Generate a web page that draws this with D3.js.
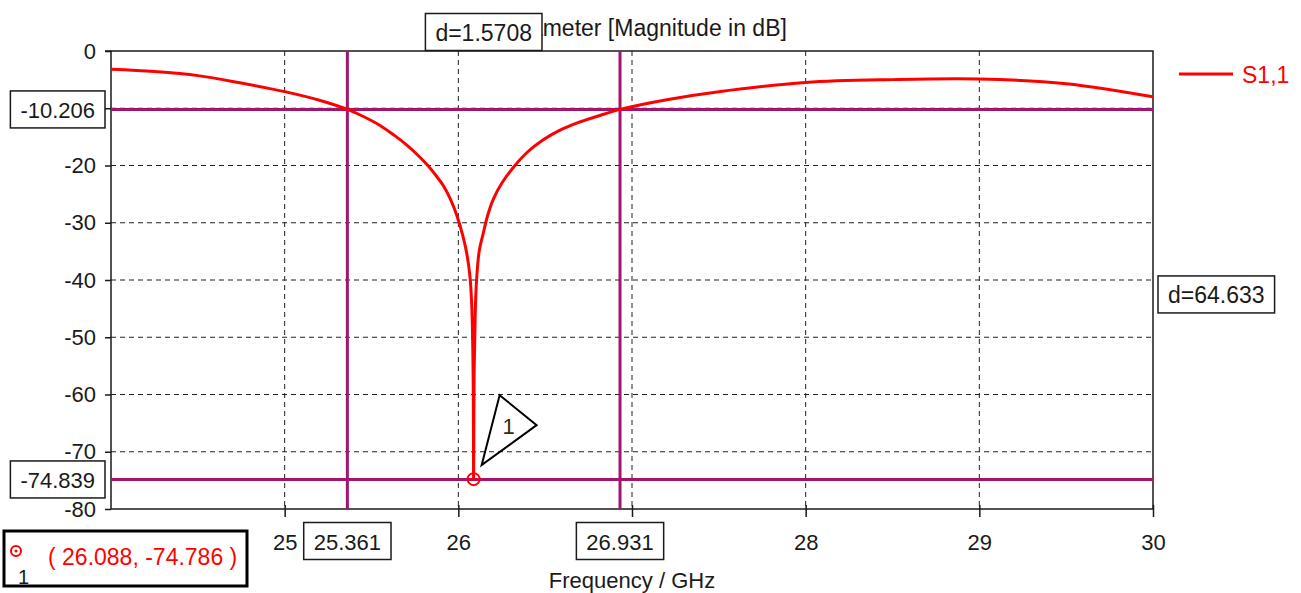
<!DOCTYPE html>
<html>
<head>
<meta charset="utf-8">
<script src="https://cdn.jsdelivr.net/npm/d3@7"></script>
<style>
  body { margin: 0; background: #fff; }
  svg { display: block; font-family: "Liberation Sans", Arial, sans-serif; }
</style>
</head>
<body>
<script>
// S-parameter data (GHz, dB)
const freq = [24, 24.25, 24.5, 24.75, 25, 25.2, 25.361, 25.45, 25.549, 25.63, 25.702, 25.77, 25.827, 25.87,
  25.913, 25.955, 25.99, 26.028, 26.05, 26.067,
  26.078, 26.085, 26.088, 26.091, 26.098, 26.105, 26.12, 26.143, 26.17, 26.201, 26.25, 26.326, 26.4, 26.489,
  26.58, 26.681, 26.8, 26.931, 27.2, 27.5, 28, 28.5, 29, 29.5, 30];
const s11 = [-3.2, -3.6, -4.3, -5.6, -7.1, -8.6, -10.2, -11.4, -13.0, -14.7, -16.4, -18.3, -20.1, -21.7,
  -23.5, -25.9, -28.6, -32.5, -35.6, -39.4,
  -45, -56, -74.8, -56, -45, -40, -35.0, -31.9, -28.6, -25.9, -23.1, -20.0, -17.6, -15.5,
  -13.9, -12.6, -11.4, -10.2, -8.5, -7.1, -5.5, -5.0, -4.9, -5.7, -8.0];

const xTicks = [25, 26, 27, 28, 29, 30];
const yTicks = [0, -10, -20, -30, -40, -50, -60, -70, -80];

// markers
const vMarkers = [25.361, 26.931];
const hMarkers = [-10.206, -74.839];
const deltaLabels = ["d=1.5708", "d=64.633"];
const markerPoint = { f: 26.088, db: -74.786 };

const width = 1301, height = 593;
const pL = 111, pR = 1153, pT = 51, pB = 509;
const purple = "#a0166e";
const ink = "#1a1a1a";

const svg = d3.select("body").append("svg")
  .attr("width", width)
  .attr("height", height);

const x = d3.scaleLinear().domain([24, 30]).range([pL, pR]);
const y = d3.scaleLinear().domain([-80, 0]).range([pB, pT]);

// grid
svg.append("g").selectAll("line")
  .data(xTicks.filter(d => d < 30))
  .join("line")
  .attr("x1", d => x(d)).attr("x2", d => x(d))
  .attr("y1", pT).attr("y2", pB)
  .attr("stroke", "#222").attr("stroke-dasharray", "5,4");

svg.append("g").selectAll("line")
  .data(yTicks.filter(d => d > -80 && d < 0))
  .join("line")
  .attr("x1", pL).attr("x2", pR)
  .attr("y1", d => y(d)).attr("y2", d => y(d))
  .attr("stroke", "#222").attr("stroke-dasharray", "5,4");

// axes
const yAxis = svg.append("g")
  .attr("transform", `translate(${pL},0)`)
  .call(d3.axisLeft(y).tickValues(yTicks).tickFormat(d => String(d)).tickSize(6).tickPadding(9));
yAxis.select(".domain").remove();
yAxis.selectAll("line").attr("stroke", ink).attr("stroke-width", 1.5);
yAxis.selectAll("text").attr("font-size", 22).attr("fill", ink)
  .attr("font-family", "Liberation Sans, Arial, sans-serif");

const xAxis = svg.append("g")
  .attr("transform", `translate(0,${pB})`)
  .call(d3.axisBottom(x).tickValues(xTicks).tickFormat(d => String(d)).tickSize(8));
xAxis.select(".domain").remove();
xAxis.selectAll("line").attr("y1", -4).attr("y2", 8).attr("stroke", ink).attr("stroke-width", 1.5);
xAxis.selectAll("text").attr("y", 25).attr("font-size", 22).attr("fill", ink)
  .attr("font-family", "Liberation Sans, Arial, sans-serif");

// frame
svg.append("rect")
  .attr("x", pL).attr("y", pT)
  .attr("width", pR - pL).attr("height", pB - pT)
  .attr("fill", "none").attr("stroke", ink).attr("stroke-width", 1.5);
svg.append("line")
  .attr("x1", pL - 6).attr("x2", pL).attr("y1", pT).attr("y2", pT)
  .attr("stroke", ink).attr("stroke-width", 1.5);

// marker lines
svg.append("g").selectAll("line")
  .data(vMarkers)
  .join("line")
  .attr("x1", d => x(d)).attr("x2", d => x(d))
  .attr("y1", pT).attr("y2", pB)
  .attr("stroke", purple).attr("stroke-width", 3);

svg.append("g").selectAll("line")
  .data(hMarkers)
  .join("line")
  .attr("x1", pL).attr("x2", pR)
  .attr("y1", d => y(d)).attr("y2", d => y(d))
  .attr("stroke", purple).attr("stroke-width", 3);

// curve
svg.append("clipPath").attr("id", "clip")
  .append("rect").attr("x", pL).attr("y", pT)
  .attr("width", pR - pL).attr("height", pB - pT);

const line = d3.line()
  .x((d, i) => x(freq[i]))
  .y(d => y(d))
  .curve(d3.curveCatmullRom.alpha(0.5));

svg.append("path")
  .datum(s11)
  .attr("clip-path", "url(#clip)")
  .attr("d", line)
  .attr("fill", "none")
  .attr("stroke", "#ff0000")
  .attr("stroke-width", 3);

// marker point + triangle flag
const mx = x(markerPoint.f), my = y(markerPoint.db);
svg.append("circle")
  .attr("cx", mx).attr("cy", my).attr("r", 6)
  .attr("fill", "none").attr("stroke", "#ff0000").attr("stroke-width", 2);

const tri = [[8, -14], [26, -84], [63, -54]];
svg.append("polygon")
  .attr("points", tri.map(p => [mx + p[0], my + p[1]].join(",")).join(" "))
  .attr("fill", "none").attr("stroke", "#000").attr("stroke-width", 2);
svg.append("text")
  .attr("x", mx + 35).attr("y", my - 53)
  .attr("text-anchor", "middle").attr("dominant-baseline", "central")
  .attr("font-size", 22).attr("fill", "#3a2a10")
  .text("1");

// title (partly hidden behind the delta box)
svg.append("text")
  .attr("x", (pL + pR) / 2 - 3).attr("y", 36)
  .attr("text-anchor", "middle").attr("font-size", 23).attr("fill", ink)
  .text("S-Parameter [Magnitude in dB]");

// boxed labels
function box(txt, cx, cy, anchor, size) {
  const g = svg.append("g");
  const r = g.append("rect");
  const t = g.append("text")
    .attr("font-size", size || 22).attr("fill", ink)
    .attr("dominant-baseline", "central")
    .text(txt);
  const w = t.node().getComputedTextLength() + 20, h = 37;
  let x0 = cx - w / 2;
  if (anchor === "end") x0 = cx - w;
  if (anchor === "start") x0 = cx;
  r.attr("x", x0).attr("y", cy - h / 2).attr("width", w).attr("height", h)
    .attr("fill", "#fff").attr("stroke", ink).attr("stroke-width", 1.5);
  t.attr("x", x0 + 10).attr("y", cy + 1);
}

box(deltaLabels[0], (x(vMarkers[0]) + x(vMarkers[1])) / 2, 32, "middle", 23);
box(deltaLabels[1], pR + 5, (y(hMarkers[0]) + y(hMarkers[1])) / 2, "start", 23);
hMarkers.forEach(v => box(v.toFixed(3), pL - 6, y(v), "end", 22));
vMarkers.forEach(v => box(v.toFixed(3), x(v), 541, "middle", 22));

// x axis title
svg.append("text")
  .attr("x", (pL + pR) / 2).attr("y", 588)
  .attr("text-anchor", "middle").attr("font-size", 22).attr("fill", ink)
  .text("Frequency / GHz");

// legend
svg.append("line")
  .attr("x1", 1179).attr("x2", 1233).attr("y1", 74).attr("y2", 74)
  .attr("stroke", "#ff0000").attr("stroke-width", 3);
svg.append("text")
  .attr("x", 1242).attr("y", 75).attr("dominant-baseline", "central")
  .attr("font-size", 23).attr("fill", "#ff0000")
  .text("S1,1");

// marker readout
svg.append("rect")
  .attr("x", 4).attr("y", 531).attr("width", 243).attr("height", 55)
  .attr("fill", "#fff").attr("stroke", "#000").attr("stroke-width", 3);
svg.append("circle").attr("cx", 16).attr("cy", 551).attr("r", 5)
  .attr("fill", "none").attr("stroke", "#ff0000").attr("stroke-width", 2);
svg.append("circle").attr("cx", 16).attr("cy", 551).attr("r", 1.5).attr("fill", "#ff0000");
svg.append("text").attr("x", 18).attr("y", 584).attr("font-size", 20).attr("fill", ink).text("1");
svg.append("text")
  .attr("x", 48).attr("y", 557).attr("dominant-baseline", "central")
  .attr("font-size", 23).attr("fill", "#ff0000")
  .attr("xml:space", "preserve")
  .text(`( ${markerPoint.f.toFixed(3)}, ${markerPoint.db.toFixed(3)} )`);
</script>
</body>
</html>
